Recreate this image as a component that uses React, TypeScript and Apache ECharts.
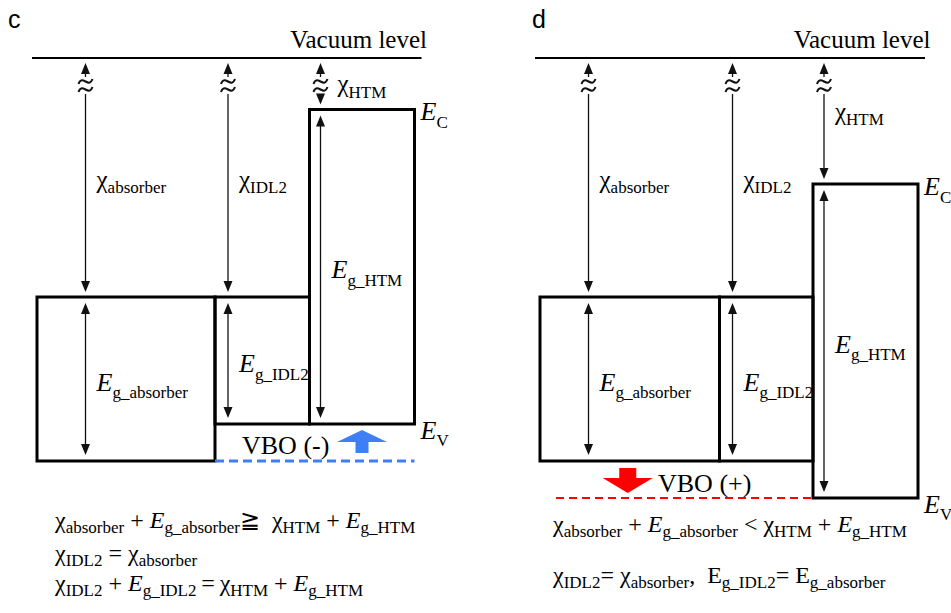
import React, { useEffect, useRef } from "react";
import * as echarts from "echarts";

// ---- data ---------------------------------------------------------------
// Energies are counted downward from the vacuum level (0), in schematic units.
const PANELS = ["c", "d"];
const LAYERS = ["absorber", "IDL2", "HTM"];
const CHI_C = [23.9, 23.9, 5.15]; // electron affinity χ, panel c
const EG_C = [16.4, 12.7, 31.45]; // band gap Eg, panel c
const CHI_D = [23.9, 23.9, 12.6]; // electron affinity χ, panel d
const EG_D = [16.4, 16.4, 31.4]; // band gap Eg, panel d
const VACUUM_LABEL = "Vacuum level";

type Kind = "m" | "i" | "s"; // upright, italic, subscript
type Run = [string, Kind];
const FORMULAS_C: Run[][] = [
  [["χ", "m"], ["absorber", "s"], [" + ", "m"], ["E", "i"], ["g_absorber", "s"], ["≧  ", "m"], ["χ", "m"], ["HTM", "s"], [" + ", "m"], ["E", "i"], ["g_HTM", "s"]],
  [["χ", "m"], ["IDL2", "s"], [" = ", "m"], ["χ", "m"], ["absorber", "s"]],
  [["χ", "m"], ["IDL2", "s"], [" + ", "m"], ["E", "i"], ["g_IDL2", "s"], ["\u2009=\u2009", "m"], ["χ", "m"], ["HTM", "s"], [" + ", "m"], ["E", "i"], ["g_HTM", "s"]],
];
const FORMULAS_D: Run[][] = [
  [["χ", "m"], ["absorber", "s"], [" + ", "m"], ["E", "i"], ["g_absorber", "s"], [" < ", "m"], ["χ", "m"], ["HTM", "s"], [" + ", "m"], ["E", "i"], ["g_HTM", "s"]],
  [["χ", "m"], ["IDL2", "s"], ["= ", "m"], ["χ", "m"], ["absorber", "s"], [",  ", "m"], ["E", "m"], ["g_IDL2", "s"], ["= ", "m"], ["E", "m"], ["g_absorber", "s"]],
];

// ---- layout -------------------------------------------------------------
const SERIF = '"Liberation Serif", "Times New Roman", serif';
const SANS = '"Liberation Sans", Arial, sans-serif';
const INK = "#111";
const BOX_X = [
  [37, 215, 309.5, 414.5],
  [540, 719.5, 813, 918],
];
const ARROW_DX = [48.5, 13, 11];
const FORMULA_POS = [
  { x: 55, ys: [519.7, 552.7, 582.7] },
  { x: 553, ys: [523.7, 574.7] },
];

let measureCtx: CanvasRenderingContext2D | null = null;
function textWidth(t: string, font: string) {
  if (!measureCtx) measureCtx = document.createElement("canvas").getContext("2d");
  measureCtx!.font = font;
  return measureCtx!.measureText(t).width;
}

function textEl(t: string, x: number, y: number, font: string, fill = "#000", align = "left") {
  return {
    type: "text",
    x,
    y,
    silent: true,
    style: {
      text: t,
      font,
      fill,
      textAlign: align,
      textVerticalAlign: "middle",
      align,
      verticalAlign: "middle",
    },
  };
}

// a run of text pieces with subscripts, laid out left to right
function runs(x: number, y: number, parts: Run[], main: number, sub: number, subDy: number) {
  const out: any[] = [];
  let cx = x;
  for (const [t, k] of parts) {
    const size = k === "s" ? sub : main;
    const font = `${k === "i" ? "italic " : ""}${size}px ${SERIF}`;
    out.push(textEl(t, cx, y + (k === "s" ? subDy : 0), font));
    cx += textWidth(t, font);
  }
  return out;
}

function seg(x1: number, y1: number, x2: number, y2: number, stroke: string, lineWidth: number, dash?: number[]) {
  return {
    type: "line",
    silent: true,
    shape: { x1, y1, x2, y2 },
    style: { stroke, lineWidth, lineDash: dash, fill: "none" },
  };
}

function poly(points: number[][], fill: string) {
  return { type: "polygon", silent: true, shape: { points }, style: { fill } };
}

function tilde(x: number, y: number) {
  return {
    type: "bezierCurve",
    silent: true,
    shape: { x1: x - 7, y1: y + 2.5, cpx1: x - 3, cpy1: y - 8, cpx2: x + 3, cpy2: y + 8, x2: x + 7, y2: y - 2.5 },
    style: { stroke: INK, lineWidth: 2, fill: "none" },
  };
}

// vertical double-headed arrow, optionally with an axis-break mark
function vArrow(x: number, yA: number, yB: number, breakY: number | null) {
  const hw = 4.5;
  const hl = 11;
  const els: any[] = [];
  const s = yA + hl - 1;
  const e = yB - hl + 1;
  if (breakY == null) {
    els.push(seg(x, s, x, e, INK, 1.3));
  } else {
    els.push(seg(x, s, x, breakY - 9, INK, 1.3));
    if (e > breakY + 8) els.push(seg(x, breakY + 8, x, e, INK, 1.3));
    els.push(tilde(x, breakY - 4.5), tilde(x, breakY + 3.5));
  }
  els.push(poly([[x, yA], [x - hw, yA + hl], [x + hw, yA + hl]], INK));
  els.push(poly([[x, yB], [x - hw, yB - hl], [x + hw, yB - hl]], INK));
  return els;
}

const CHI = [CHI_C, CHI_D];
const EG = [EG_C, EG_D];

function buildOption() {
  const bandData = PANELS.flatMap((_, p) => LAYERS.map((_, i) => [p, i, CHI[p][i], EG[p][i]]));
  const vacuumData = PANELS.map((_, p) => [p, 0]);
  const vboData = PANELS.map((_, p) => [p, CHI[p][0] + EG[p][0], CHI[p][2] + EG[p][2]]);

  const vacuumSeries = {
    type: "custom",
    coordinateSystem: "cartesian2d",
    silent: true,
    clip: false,
    data: vacuumData,
    renderItem: (_params: any, api: any) => {
      const p = api.value(0);
      const xs = BOX_X[p];
      const y = api.coord([0, api.value(1)])[1];
      return {
        type: "group",
        children: [
          seg(xs[0] - 5, y, xs[3] + 7, y, "#000", 2),
          textEl(VACUUM_LABEL, xs[3] + 12.5, y - 19, `25px ${SERIF}`, "#000", "right"),
        ],
      };
    },
  };

  const bandSeries = {
    type: "custom",
    coordinateSystem: "cartesian2d",
    silent: true,
    clip: false,
    data: bandData,
    renderItem: (_params: any, api: any) => {
      const p = api.value(0);
      const i = api.value(1);
      const chi = api.value(2);
      const eg = api.value(3);
      const xs = BOX_X[p];
      const [x0, yTop] = api.coord([xs[i], chi]);
      const [x1, yBot] = api.coord([xs[i + 1], chi + eg]);
      const yVac = api.coord([0, 0])[1];
      const ax = x0 + ARROW_DX[i];
      const chiPx = yTop - yVac;
      const breakY = yVac + 28;
      const children: any[] = [
        {
          type: "rect",
          silent: true,
          shape: { x: x0, y: yTop, width: x1 - x0, height: yBot - yTop },
          style: { fill: "none", stroke: "#000", lineWidth: 3 },
        },
        ...vArrow(ax, yVac + 5, yTop - 5, breakY),
        ...vArrow(ax, yTop + 6, yBot - 6, null),
      ];
      const chiY = i === 2 ? yVac + Math.min(chiPx / 2, 53) : yVac + chiPx / 2 + 2;
      const chiX = ax + (chiY < yVac + 35 ? 17 : 11);
      children.push(...runs(chiX, chiY, [["χ", "m"], [LAYERS[i], "s"]], 25, 17, 8.4));
      children.push(...runs(ax + 11, (yTop + yBot) / 2 + 3, [["E", "i"], ["g_" + LAYERS[i], "s"]], 26, 17, 10.7));
      if (i === LAYERS.length - 1) {
        children.push(...runs(x1 + 6, yTop + 2, [["E", "i"], ["C", "s"]], 26, 17, 11));
        children.push(...runs(x1 + 6, yBot + 6, [["E", "i"], ["V", "s"]], 26, 17, 10.7));
      }
      return { type: "group", children };
    },
  };

  const vboSeries = {
    type: "custom",
    coordinateSystem: "cartesian2d",
    silent: true,
    clip: false,
    data: vboData,
    renderItem: (_params: any, api: any) => {
      const p = api.value(0);
      const xs = BOX_X[p];
      const yAbs = api.coord([0, api.value(1)])[1];
      const yHtm = api.coord([0, api.value(2)])[1];
      const positive = yHtm > yAbs; // HTM valence band lies below the absorber's
      const font = `26px ${SERIF}`;
      const children: any[] = [];
      if (!positive) {
        const blue = "#3f7ff5";
        const cx = (xs[2] + xs[3]) / 2;
        const tip = yHtm + 6;
        const base = tip + 12;
        const end = yAbs - 8;
        children.push(seg(xs[1], yAbs, xs[3], yAbs, blue, 3, [9, 5]));
        children.push(
          poly([[cx, tip], [cx + 25, base], [cx + 6.5, base], [cx + 6.5, end], [cx - 6.5, end], [cx - 6.5, base], [cx - 25, base]], blue)
        );
        children.push(textEl("VBO (-)", xs[1] + 27, (yAbs + yHtm) / 2 + 3, font));
      } else {
        const red = "#ff0000";
        const cx = (xs[0] + xs[1]) / 2 - 2;
        const top = yAbs + 7;
        const head = top + 10;
        const tip = yHtm - 5;
        children.push(seg(xs[0] + 16, yHtm, xs[2], yHtm, red, 2.2, [8, 5]));
        children.push(
          poly([[cx - 8.5, top], [cx + 8.5, top], [cx + 8.5, head], [cx + 25, head], [cx, tip], [cx - 25, head], [cx - 8.5, head]], red)
        );
        children.push(textEl("VBO (+)", xs[0] + 118, (yAbs + yHtm) / 2 + 4, font));
      }
      return { type: "group", children };
    },
  };

  const graphics: any[] = [
    textEl(PANELS[0], 8, 19.3, `25px ${SANS}`),
    textEl(PANELS[1], 532, 19.3, `25px ${SANS}`),
  ];
  const formulaSets = [FORMULAS_C, FORMULAS_D];
  formulaSets.forEach((lines, p) => {
    lines.forEach((line, k) => {
      graphics.push(...runs(FORMULA_POS[p].x, FORMULA_POS[p].ys[k], line, 24, 17, 8.1));
    });
  });

  return {
    animation: false,
    grid: { left: 0, right: 0, top: 58, height: 450, outerBoundsMode: "none" },
    xAxis: { type: "value", min: 0, max: 951, show: false },
    yAxis: { type: "value", min: 0, max: 45, inverse: true, show: false },
    series: [vacuumSeries, bandSeries, vboSeries],
    graphic: { elements: graphics },
  };
}

export default function App() {
  const ref = useRef<HTMLDivElement>(null);
  useEffect(() => {
    document.body.style.margin = "0";
    const chart = echarts.init(ref.current!, null, { renderer: "svg" });
    chart.setOption(buildOption() as any);
    return () => chart.dispose();
  }, []);
  return <div ref={ref} style={{ width: 951, height: 613, background: "#fff" }} />;
}
